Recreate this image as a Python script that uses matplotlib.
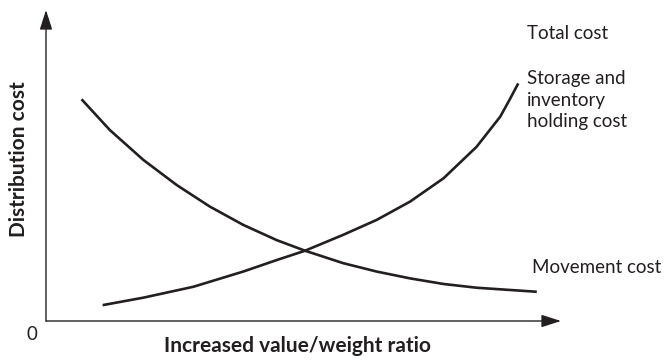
import matplotlib
matplotlib.use("Agg")
import matplotlib.pyplot as plt

plt.rcParams.update({'font.family': ['Lato', 'DejaVu Sans']})

# Curve values (arbitrary units, axes run 0..10)
movement_x = [0.69, 1.24, 1.89, 2.54, 3.18, 3.83, 4.48, 5.03, 5.77, 6.42,
              7.07, 7.72, 8.36, 9.53]
movement_y = [7.13, 6.14, 5.18, 4.37, 3.68, 3.09, 2.60, 2.26, 1.86, 1.59,
              1.37, 1.19, 1.07, 0.94]

storage_x = [1.10, 1.89, 2.86, 3.83, 4.48, 5.03, 5.77, 6.42, 7.07, 7.72,
             8.36, 8.82, 9.00, 9.17]
storage_y = [0.51, 0.75, 1.10, 1.59, 1.96, 2.26, 2.77, 3.25, 3.84, 4.59,
             5.60, 6.57, 7.11, 7.64]

curve_labels = ["Total cost", "Storage and\ninventory\nholding cost", "Movement cost"]
x_label = "Increased value/weight ratio"
y_label = "Distribution cost"

ink = '#231f20'

fig = plt.figure(figsize=(6.66, 3.62), dpi=100)
ax = fig.add_axes([0, 0, 1, 1])
# origin of the drawn axes sits at pixel (46, 321)
ax.set_xlim(-46 / 51.5, 620 / 51.5)
ax.set_ylim(-41 / 31.1, 321 / 31.1)
ax.axis('off')

ax.plot(movement_x, movement_y, color=ink, lw=1.9, solid_capstyle='butt',
        solid_joinstyle='round')
ax.plot(storage_x, storage_y, color=ink, lw=1.9, solid_capstyle='butt',
        solid_joinstyle='round')

# axes with arrow heads
arrow = dict(arrowstyle='-|>,head_length=1.0,head_width=0.32', color=ink,
             lw=1.0, mutation_scale=12, shrinkA=0, shrinkB=0)
ax.annotate('', xy=(10.0, 0), xytext=(0, 0), arrowprops=arrow)
ax.annotate('', xy=(0, 10.0), xytext=(0, 0), arrowprops=arrow)

ax.text(-0.27, -0.45, "0", fontsize=13.5, color=ink, ha='center', va='center')

ax.text(4.89, -0.8, x_label, fontsize=15, fontweight='bold', color=ink,
        ha='center', va='center')
ax.text(-0.52, 5.2, y_label, fontsize=15, fontweight='bold', color=ink,
        ha='center', va='center', rotation=90)

ax.text(9.34, 9.25, curve_labels[0], fontsize=13.5, color=ink, ha='left', va='center')
ax.text(9.34, 7.1, curve_labels[1], fontsize=13.5, color=ink, ha='left', va='center',
        linespacing=1.3)
ax.text(9.44, 1.73, curve_labels[2], fontsize=13.5, color=ink, ha='left', va='center')

fig.savefig("out.png", dpi=100)
